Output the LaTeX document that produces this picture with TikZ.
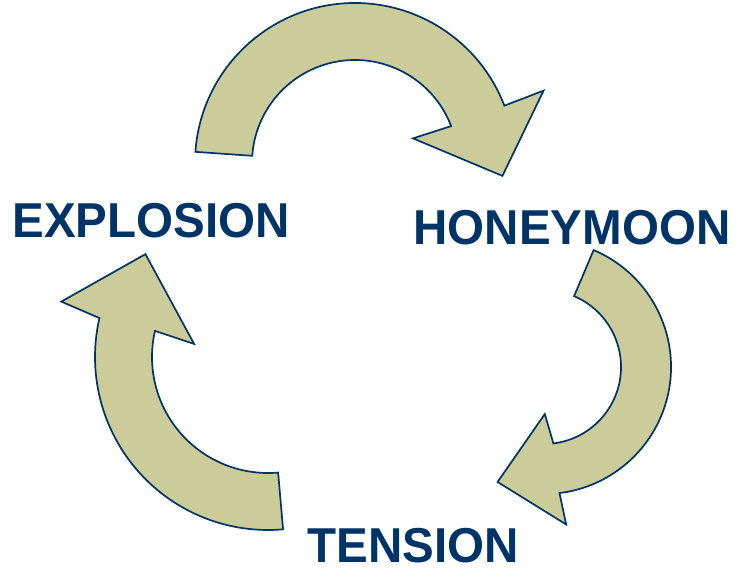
\documentclass[tikz,border=0pt]{standalone}
\usepackage{fontspec}
\setmainfont{Liberation Sans}
\definecolor{navy}{RGB}{0,51,102}
\definecolor{olivefill}{RGB}{203,204,154}
\tikzset{
  cyclearrow/.style={fill=olivefill, draw=navy, line width=1.7pt, line join=miter},
  phase/.style={text=navy, font=\fontsize{49}{49}\selectfont\bfseries, inner sep=0pt, anchor=base, xscale=0.97}
}
\begin{document}
\begin{tikzpicture}[x=1pt,y=1pt]
\useasboundingbox (0,0) rectangle (735,568);
% top arrow
\begin{scope}[shift={(355,405)}]
\draw[cyclearrow] (176:160) arc[start angle=176, end angle=21, radius=160]
  -- (21:202) -- (-5:148) -- (23:63) -- (21:103)
  arc[start angle=21, end angle=176, radius=103] -- cycle;
\end{scope}
% right arrow
\begin{scope}[shift={(544,201)}]
\draw[cyclearrow] (67:127) arc[start angle=67, end angle=-83, radius=127]
  -- (-82:159) -- (-112:124) -- (-89:47) -- (-83:77)
  arc[start angle=-83, end angle=67, radius=77] -- cycle;
\end{scope}
% left arrow
\begin{scope}[shift={(268,211)}]
\draw[cyclearrow] (-85:173) arc[start angle=-85, end angle=-193, radius=173]
  -- (165:214) -- (140:160) -- (170:75) -- (167:116)
  arc[start angle=-193, end angle=-85, radius=116] -- cycle;
\end{scope}
\node[phase] (explosion) at (151,330) {EXPLOSION};
\node[phase] (honeymoon) at (572,323) {HONEYMOON};
\node[phase] (tension) at (413.5,6) {TENSION};
\end{tikzpicture}
\end{document}
